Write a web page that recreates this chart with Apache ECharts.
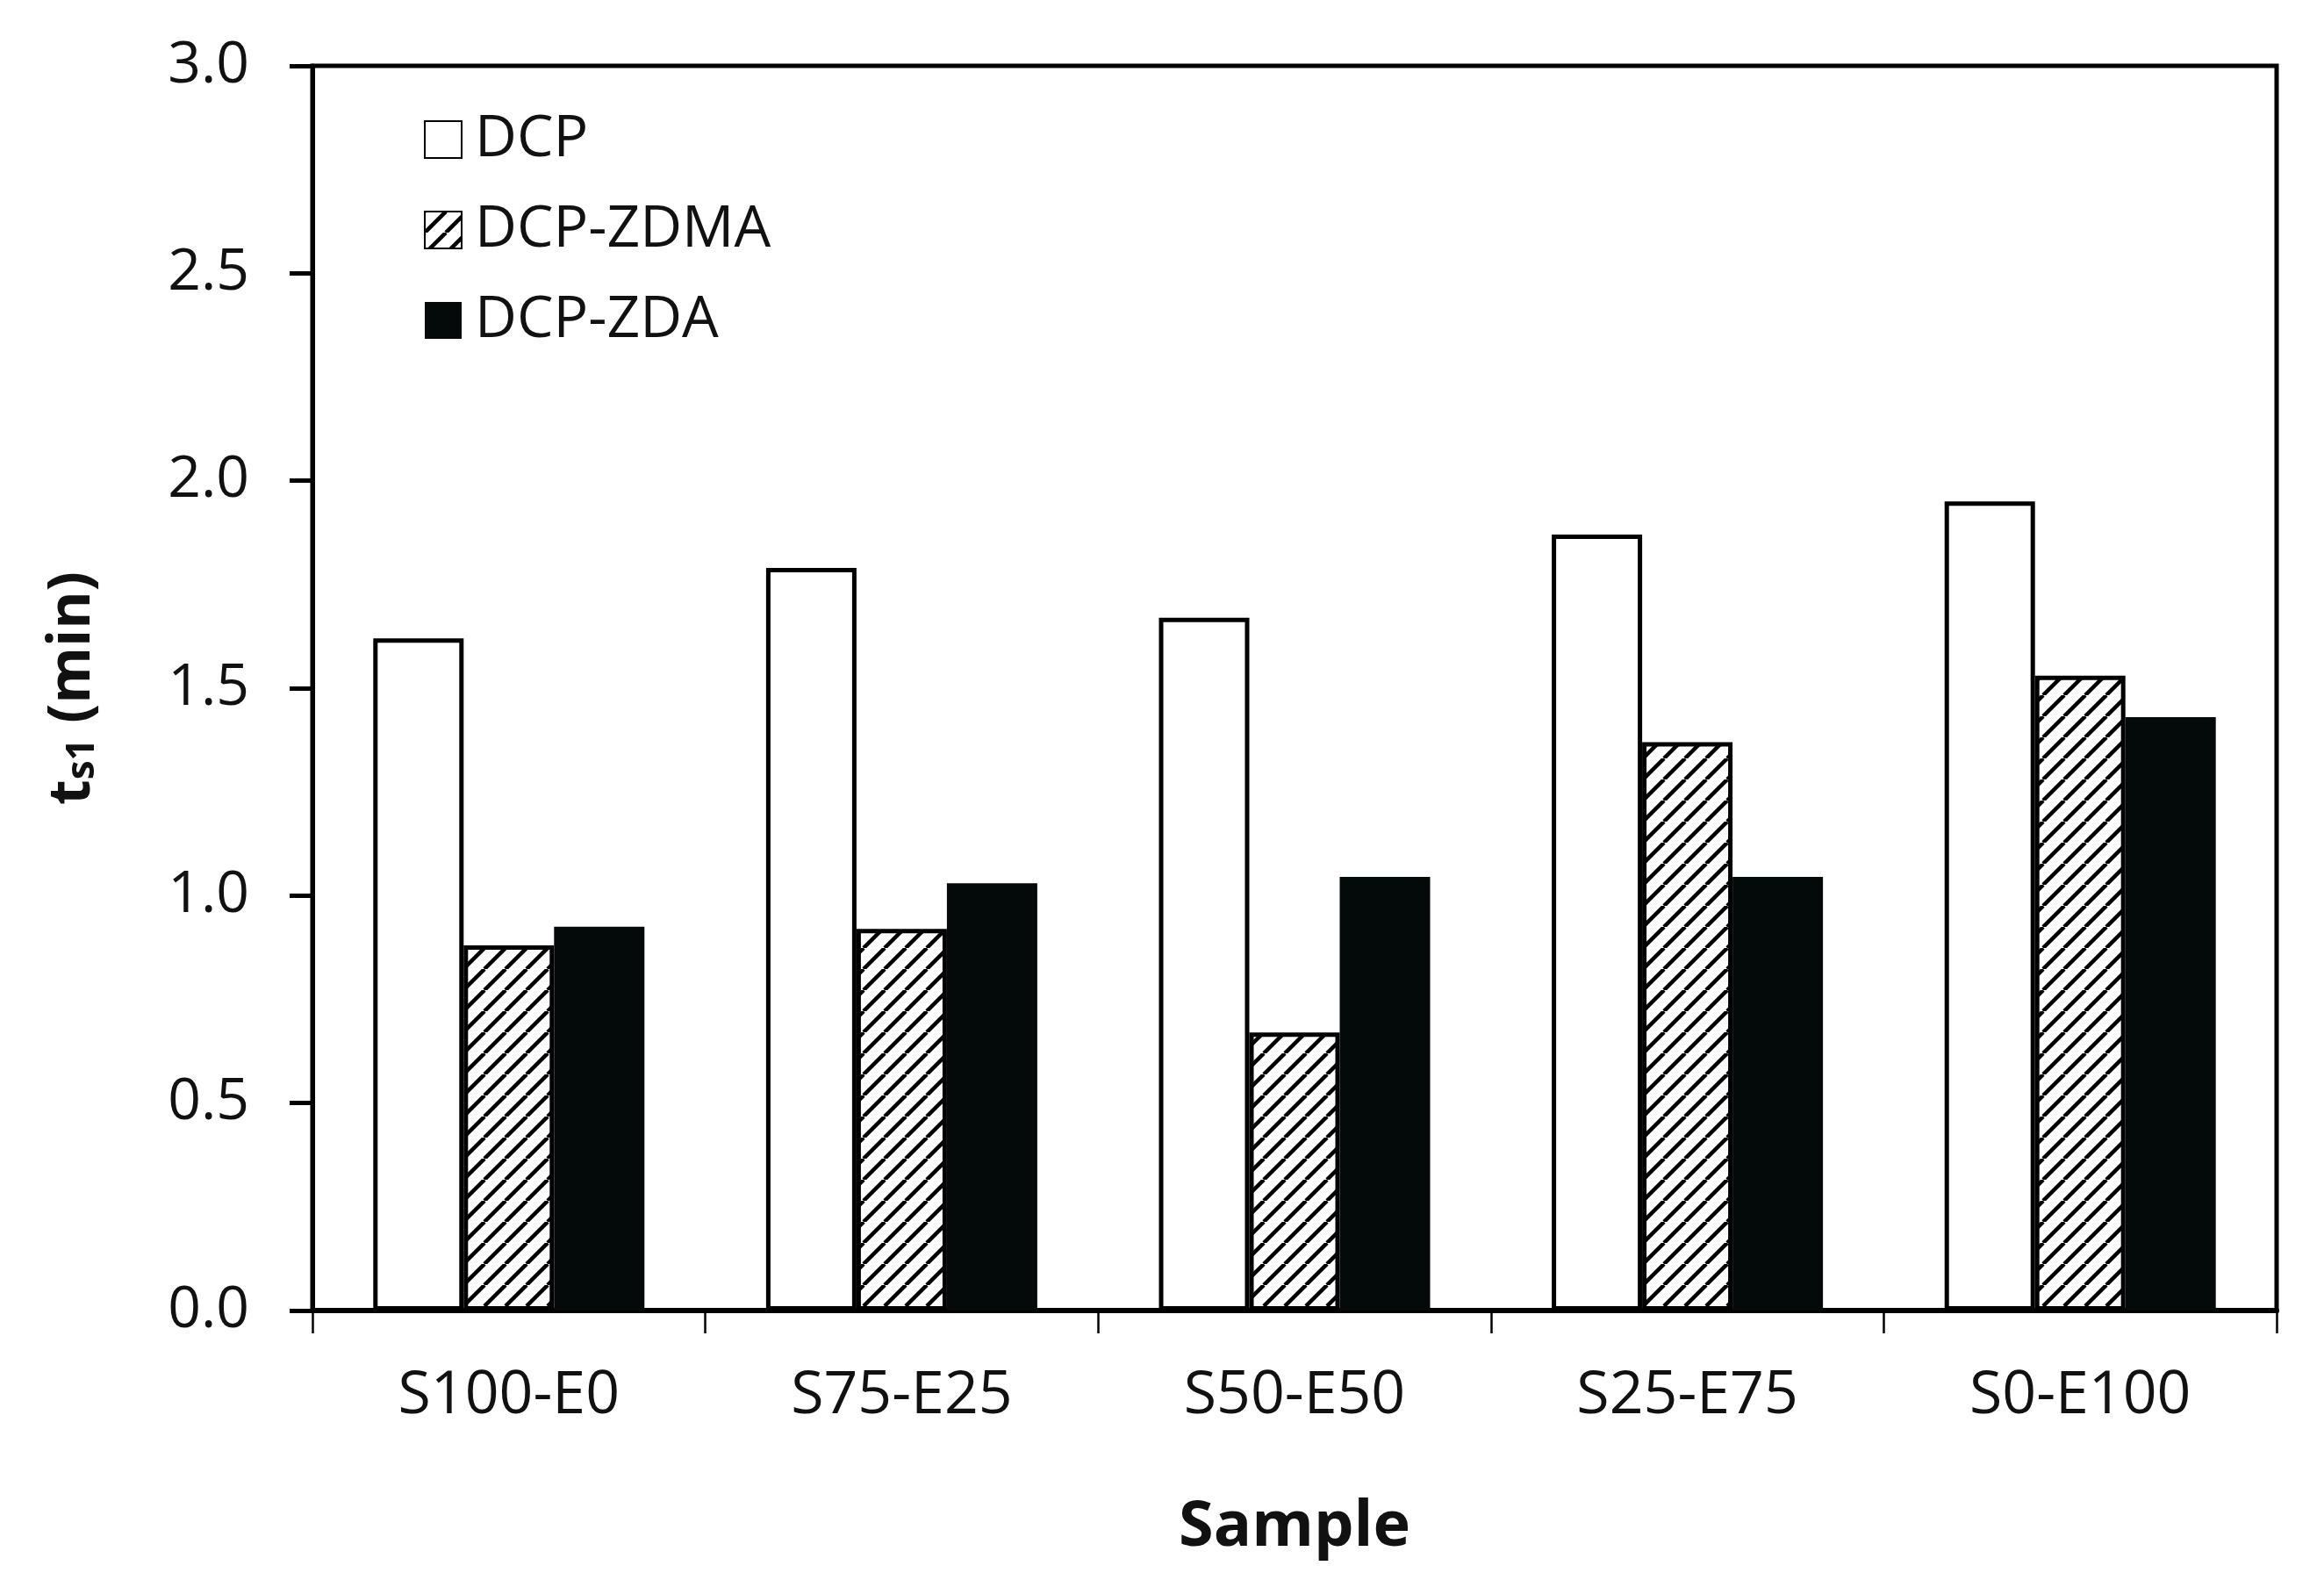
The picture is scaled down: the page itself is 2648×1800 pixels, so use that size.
<!DOCTYPE html>
<html>
<head>
<meta charset="utf-8">
<script src="https://cdn.jsdelivr.net/npm/echarts@6/dist/echarts.min.js"></script>
<style>
html,body{margin:0;padding:0;background:#fff;}
#chart{width:2648px;height:1800px;}
</style>
</head>
<body>
<div id="chart"></div>
<script>
const categories = ['S100-E0', 'S75-E25', 'S50-E50', 'S25-E75', 'S0-E100'];
const seriesNames = ['DCP', 'DCP-ZDMA', 'DCP-ZDA'];
const dcp = [1.62, 1.79, 1.67, 1.87, 1.95];
const dcpZdma = [0.88, 0.92, 0.67, 1.37, 1.53];
const dcpZda = [0.925, 1.03, 1.045, 1.045, 1.43];
const yTicks = [0, 0.5, 1.0, 1.5, 2.0, 2.5, 3.0];

function hatch() {
  const s = 24;
  const c = document.createElement('canvas');
  c.width = s; c.height = s;
  const g = c.getContext('2d');
  g.fillStyle = '#fff';
  g.fillRect(0, 0, s, s);
  g.strokeStyle = '#000';
  g.lineWidth = 4.5;
  for (const o of [-s, 0, s]) {
    g.beginPath();
    g.moveTo(o, s);
    g.lineTo(o + s, 0);
    g.stroke();
  }
  return c;
}

const font = '"Open Sans", "Noto Sans", sans-serif';
const chart = echarts.init(document.getElementById('chart'));
const barW = 103;
chart.setOption({
  animation: false,
  backgroundColor: '#fff',
  grid: { left: 356, right: 54, top: 75, bottom: 307, show: true, borderColor: '#000', borderWidth: 5, backgroundColor: 'transparent' },
  legend: {
    orient: 'vertical', left: 478, top: 121,
    itemWidth: 42, itemHeight: 42, itemGap: 37,
    data: seriesNames,
    textStyle: { fontFamily: font, fontSize: 66, color: '#111', padding: [0, 0, 0, 10] },
    icon: 'rect'
  },
  xAxis: {
    type: 'category', data: categories,
    axisLine: { lineStyle: { color: '#000', width: 6 } },
    axisTick: { show: true, alignWithLabel: false, inside: false, length: 26, lineStyle: { color: '#000', width: 2.5 } },
    axisLabel: { fontFamily: font, fontSize: 68, color: '#111', margin: 64 },
    name: 'Sample', nameLocation: 'middle', nameGap: 211,
    nameTextStyle: { fontFamily: font, fontSize: 72, fontWeight: 'bold', color: '#111' }
  },
  yAxis: {
    type: 'value', min: 0, max: 3, interval: 0.5,
    axisLine: { show: true, lineStyle: { color: '#000', width: 5 } },
    axisTick: { show: true, inside: false, length: 26, lineStyle: { color: '#000', width: 5 } },
    splitLine: { show: false },
    axisLabel: { fontFamily: font, fontSize: 66, color: '#111', margin: 72, formatter: v => v.toFixed(1) },
    name: '{a|t}{b|s1}{a| (min)}', nameLocation: 'middle', nameGap: 240, nameRotate: 90,
    nameTextStyle: {
      rich: {
        a: { fontFamily: font, fontSize: 66, fontWeight: 'bold', color: '#111' },
        b: { fontFamily: font, fontSize: 44, fontWeight: 'bold', color: '#111', verticalAlign: 'bottom', padding: [22, 0, 0, 0] }
      }
    }
  },
  series: [
    { name: seriesNames[0], type: 'bar', data: dcp, barWidth: barW, barGap: '0%',
      itemStyle: { color: '#fff', borderColor: '#000', borderWidth: 5 } },
    { name: seriesNames[1], type: 'bar', data: dcpZdma, barWidth: barW, barGap: '0%',
      itemStyle: { color: { image: hatch(), repeat: 'repeat' }, borderColor: '#000', borderWidth: 5 } },
    { name: seriesNames[2], type: 'bar', data: dcpZda, barWidth: barW, barGap: '0%',
      itemStyle: { color: '#040909', borderColor: '#040909', borderWidth: 0 } }
  ]
});
</script>
</body>
</html>
